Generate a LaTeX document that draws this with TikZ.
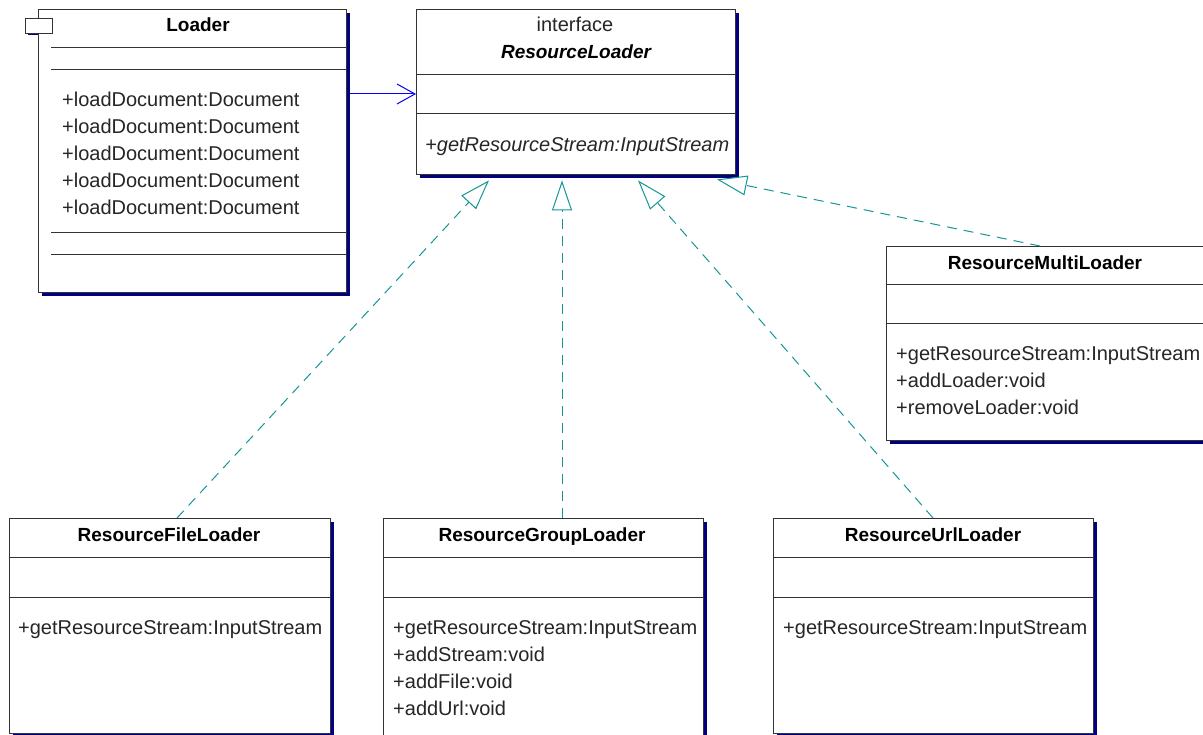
\documentclass[tikz,border=0pt]{standalone}
\usepackage{fontspec}
\setmainfont{Liberation Sans}
\usetikzlibrary{arrows.meta,shadows}
\definecolor{umlteal}{RGB}{20,150,150}
\definecolor{shadenavy}{RGB}{0,0,128}
\tikzset{
  classbox/.style={draw=black!80, line width=1.4pt, fill=white, inner sep=0pt, anchor=north west,
    drop shadow={shadow xshift=3pt, shadow yshift=-3pt, fill=shadenavy, opacity=1}},
  sepline/.style={draw=black!80, line width=1pt},
  classname/.style={font=\fontsize{19}{23}\selectfont\bfseries, inner sep=0pt, anchor=base},
  member/.style={font=\fontsize{20}{24}\selectfont, text=black!85, inner sep=0pt, anchor=base west},
  realize/.style={draw=umlteal, line width=1pt, dash pattern=on 10pt off 7pt,
    -{Triangle[open, length=30pt, width=20pt, fill=white]}},
  uses/.style={draw=blue, line width=1pt, -{Straight Barb[length=18pt, width=20pt]}}
}
\begin{document}
\begin{tikzpicture}[x=1pt,y=-1pt]
    \useasboundingbox (0,0) rectangle (1203,735);
    \clip (0,0) rectangle (1203,735);
    % class boxes
    \node[classbox, minimum width=308pt, minimum height=283pt] (loader) at (38,9) {};
    \node[classbox, minimum width=319pt, minimum height=165pt] (resldr) at (416,9) {};
    \node[classbox, minimum width=318pt, minimum height=194pt] (multildr) at (886,246) {};
    \node[classbox, minimum width=321pt, minimum height=215pt] (fileldr) at (9,518) {};
    \node[classbox, minimum width=320pt, minimum height=230pt] (groupldr) at (383,518) {};
    \node[classbox, minimum width=320pt, minimum height=215pt] (urlldr) at (773,518) {};
    % component icon of Loader
    \fill[shadenavy] (28,32) rectangle (38,35.5);
    \node[draw=black!80, line width=1.2pt, fill=white, inner sep=0pt, anchor=north west,
      minimum width=27pt, minimum height=15pt] (ldricon) at (25,18) {};
    % compartments
    \draw[sepline] (51,48) -- (346,48);
    \draw[sepline] (51,70) -- (346,70);
    \draw[sepline] (51,233) -- (346,233);
    \draw[sepline] (51,255) -- (346,255);
    \draw[sepline] (416,75) -- (735,75);
    \draw[sepline] (416,114) -- (735,114);
    \draw[sepline] (886,285) -- (1204,285);
    \draw[sepline] (886,324) -- (1204,324);
    \draw[sepline] (9,557) -- (330,557);
    \draw[sepline] (9,597) -- (330,597);
    \draw[sepline] (383,557) -- (703,557);
    \draw[sepline] (383,597) -- (703,597);
    \draw[sepline] (773,557) -- (1093,557);
    \draw[sepline] (773,597) -- (1093,597);
    % names
    \node[classname] (loadert) at (198,32) {Loader};
    \node[member, anchor=base] (resldrs) at (575,32) {interface};
    \node[classname, font=\fontsize{19}{23}\selectfont\bfseries\itshape] (resldrt) at (576,59) {ResourceLoader};
    \node[classname] (multildrt) at (1045,270) {ResourceMultiLoader};
    \node[classname] (fileldrt) at (169,541) {ResourceFileLoader};
    \node[classname] (groupldrt) at (542,541) {ResourceGroupLoader};
    \node[classname] (urlldrt) at (933,541) {ResourceUrlLoader};
    % operations
    \node[member] (ldop1) at (62,107) {+loadDocument:Document};
    \node[member] (ldop2) at (62,134) {+loadDocument:Document};
    \node[member] (ldop3) at (62,161) {+loadDocument:Document};
    \node[member] (ldop4) at (62,188) {+loadDocument:Document};
    \node[member] (ldop5) at (62,215) {+loadDocument:Document};
    \node[member, font=\fontsize{20}{24}\selectfont\itshape] (rlop) at (425,152) {+getResourceStream:InputStream};
    \node[member] (mlop1) at (896,361) {+getResourceStream:InputStream};
    \node[member] (mlop2) at (896,388) {+addLoader:void};
    \node[member] (mlop3) at (896,415) {+removeLoader:void};
    \node[member] (flop) at (18,634) {+getResourceStream:InputStream};
    \node[member] (glop1) at (393,634) {+getResourceStream:InputStream};
    \node[member] (glop2) at (393,661) {+addStream:void};
    \node[member] (glop3) at (393,688) {+addFile:void};
    \node[member] (glop4) at (393,715) {+addUrl:void};
    \node[member] (ulop) at (783,634) {+getResourceStream:InputStream};
    % connectors
    \coordinate (ldrout) at ([xshift=3pt, yshift=-85pt]loader.north east);
    \draw[uses] (ldrout) -- (ldrout -| resldr.west);
    \draw[realize] ([xshift=168pt]fileldr.north west) -- ([xshift=73pt, yshift=-5pt]resldr.south west);
    \draw[realize] ([xshift=179pt]groupldr.north west) -- ([xshift=146pt, yshift=-5pt]resldr.south west);
    \draw[realize] ([xshift=160pt]urlldr.north west) -- ([xshift=222pt, yshift=-5pt]resldr.south west);
    \draw[realize] ([xshift=154pt]multildr.north west) -- ([xshift=301pt, yshift=-4pt]resldr.south west);
\end{tikzpicture}
\end{document}
